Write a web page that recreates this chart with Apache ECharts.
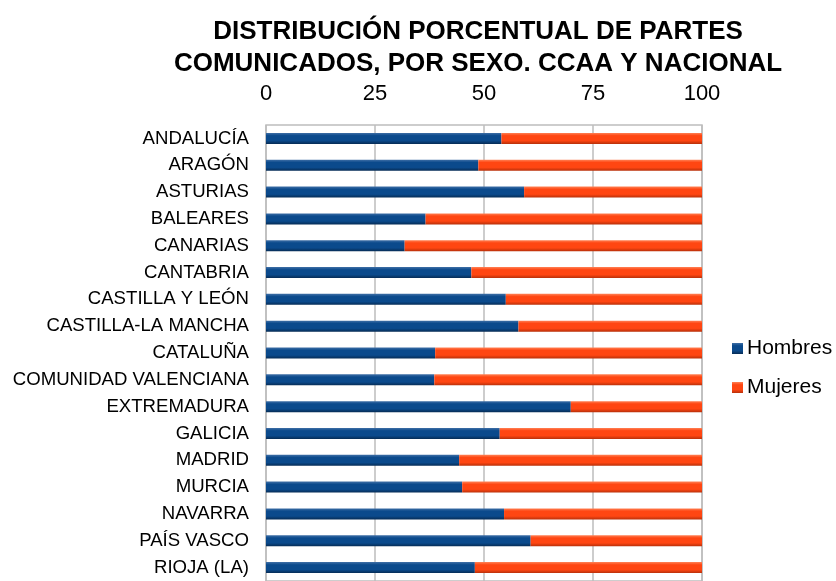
<!DOCTYPE html>
<html>
<head>
<meta charset="utf-8">
<script src="https://cdn.jsdelivr.net/npm/echarts@6/dist/echarts.min.js"></script>
<style>
  html, body { margin: 0; padding: 0; background: #fff; }
  #chart { width: 836px; height: 581px; }
</style>
</head>
<body>
<div id="chart"></div>
<script>
// comunidades autónomas (orden de arriba abajo)
var ccaa = ["ANDALUCÍA", "ARAGÓN", "ASTURIAS", "BALEARES", "CANARIAS", "CANTABRIA",
  "CASTILLA Y LEÓN", "CASTILLA-LA MANCHA", "CATALUÑA", "COMUNIDAD VALENCIANA",
  "EXTREMADURA", "GALICIA", "MADRID", "MURCIA", "NAVARRA", "PAÍS VASCO", "RIOJA (LA)"];
var hombres = [54.0, 48.7, 59.2, 36.6, 31.8, 47.1, 55.0, 57.9, 38.8, 38.6,
  69.9, 53.6, 44.3, 45.0, 54.6, 60.7, 47.9];
var mujeres = [46.0, 51.3, 40.8, 63.4, 68.2, 52.9, 45.0, 42.1, 61.2, 61.4,
  30.1, 46.4, 55.7, 55.0, 45.4, 39.3, 52.1];
var ticks = [0, 25, 50, 75, 100];

var chart = echarts.init(document.getElementById("chart"));

// degradado para imitar el biselado de los bloques
function bevel(light, mid, dark) {
  return new echarts.graphic.LinearGradient(0, 0, 0, 1, [
    { offset: 0, color: light },
    { offset: 0.25, color: mid },
    { offset: 0.7, color: mid },
    { offset: 1, color: dark }
  ]);
}

var option = {
  backgroundColor: "#fff",
  textStyle: { fontFamily: "Liberation Sans, Arial, sans-serif" },
  title: {
    text: "DISTRIBUCIÓN PORCENTUAL DE PARTES\nCOMUNICADOS, POR SEXO. CCAA Y NACIONAL",
    left: 473,
    top: 11,
    textAlign: "center",
    textStyle: {
      fontSize: 26,
      fontWeight: "bold",
      color: "#000",
      lineHeight: 32,
      fontFamily: "Liberation Sans, Arial, sans-serif"
    }
  },
  legend: {
    orient: "vertical",
    left: 732,
    top: 338,
    padding: 0,
    itemWidth: 11,
    itemHeight: 11,
    itemGap: 18,
    icon: "rect",
    textStyle: { fontSize: 21, color: "#000", padding: [0, 0, 0, -1] },
    data: ["Hombres", "Mujeres"]
  },
  grid: {
    left: 266,
    top: 125,
    width: 436,
    height: 462,
    show: true,
    borderColor: "#bdbdbd",
    borderWidth: 1.5
  },
  xAxis: {
    type: "value",
    position: "top",
    min: 0,
    max: 100,
    interval: 25,
    axisLine: { show: false },
    axisTick: { show: false },
    axisLabel: {
      fontSize: 22,
      color: "#000",
      margin: 20,
      formatter: function (v) { return ticks.indexOf(v) >= 0 ? String(v) : ""; }
    },
    splitLine: { lineStyle: { color: "#bdbdbd", width: 1.5 } }
  },
  yAxis: {
    type: "category",
    inverse: true,
    data: ccaa,
    axisLine: { show: false },
    axisTick: { show: false },
    axisLabel: { fontSize: 18.6, color: "#000", margin: 17 }
  },
  series: [
    {
      name: "Hombres",
      type: "bar",
      stack: "total",
      barWidth: 11,
      data: hombres,
      itemStyle: { color: bevel("#3f6fa6", "#0b4a8c", "#062c55") }
    },
    {
      name: "Mujeres",
      type: "bar",
      stack: "total",
      barWidth: 11,
      data: mujeres,
      itemStyle: { color: bevel("#ff8155", "#ff4612", "#b8300a") }
    }
  ]
};

chart.setOption(option);
</script>
</body>
</html>
